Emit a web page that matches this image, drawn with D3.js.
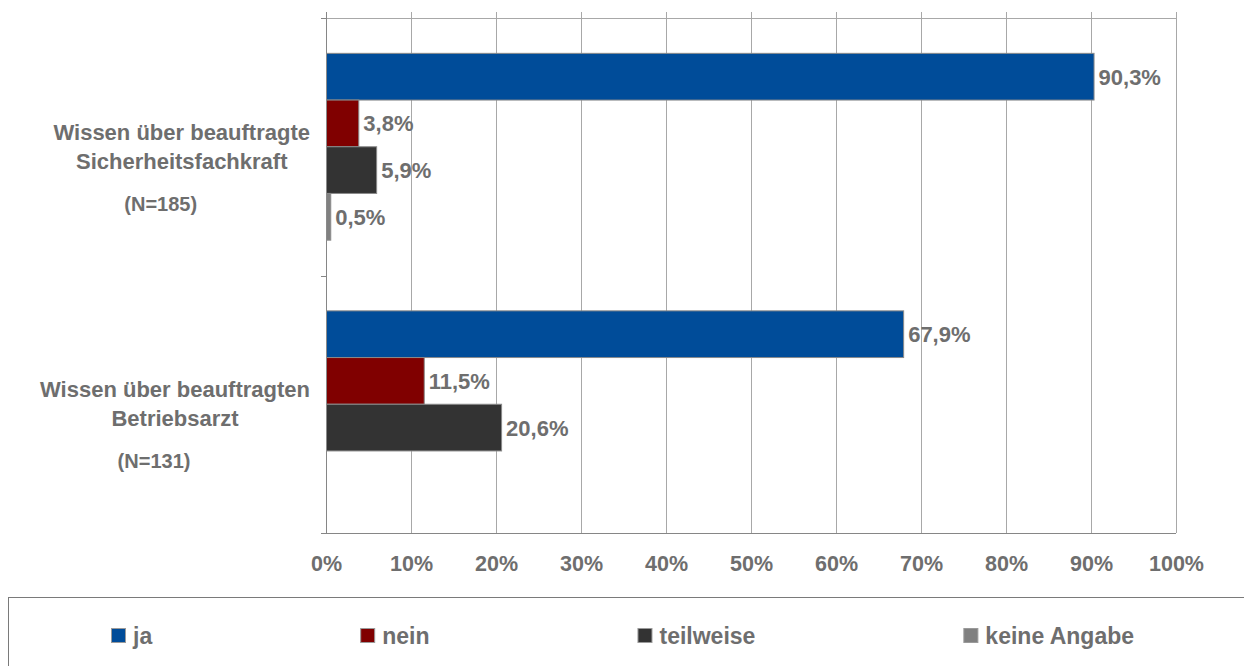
<!DOCTYPE html>
<html>
<head>
<meta charset="utf-8">
<script src="https://cdn.jsdelivr.net/npm/d3@7"></script>
<style>
  html, body { margin: 0; padding: 0; background: #ffffff; }
  svg { display: block; }
  text { font-family: "Liberation Sans", Arial, sans-serif; font-weight: bold; fill: #6e6e6e; }
</style>
</head>
<body>
<svg id="chart" width="1244" height="666"></svg>
<script>
// ---- data ----
const categories = ["Sicherheitsfachkraft", "Betriebsarzt"];
const categoryLines = [
  ["Wissen über beauftragte", "Sicherheitsfachkraft"],
  ["Wissen über beauftragten", "Betriebsarzt"]
];
const categoryN = ["(N=185)", "(N=131)"];
const seriesNames = ["ja", "nein", "teilweise", "keine Angabe"];
const seriesColors = ["#004C99", "#800000", "#333333", "#808080"];
const valuesJa = [90.3, 67.9];
const valuesNein = [3.8, 11.5];
const valuesTeilweise = [5.9, 20.6];
const valuesKeineAngabe = [0.5, null];
const seriesValues = [valuesJa, valuesNein, valuesTeilweise, valuesKeineAngabe];
const tickValues = [0, 10, 20, 30, 40, 50, 60, 70, 80, 90, 100];

// ---- layout ----
const svg = d3.select("#chart");
const plot = { left: 326, right: 1176, top: 18, bottom: 533 };
const gridColor = "#a8a8a8";
const axisColor = "#868686";

const x = d3.scaleLinear().domain([0, 100]).range([plot.left, plot.right]);
const y = d3.scaleBand().domain(categories).range([plot.top, plot.bottom]).padding(0);
const ySub = d3.scaleBand().domain(seriesNames).range([0, y.bandwidth()])
  .paddingInner(0).paddingOuter(0.757);

// top line
svg.append("line")
  .attr("x1", plot.left - 5).attr("x2", plot.right)
  .attr("y1", plot.top + 0.5).attr("y2", plot.top + 0.5)
  .attr("stroke", gridColor).attr("stroke-width", 1);

// vertical gridlines
svg.append("g").selectAll("line").data(tickValues.slice(1)).join("line")
  .attr("x1", d => Math.round(x(d)) + 0.5).attr("x2", d => Math.round(x(d)) + 0.5)
  .attr("y1", plot.top - 6).attr("y2", plot.bottom)
  .attr("stroke", gridColor).attr("stroke-width", 1);

// bottom axis
const xAxis = d3.axisBottom(x).tickValues(tickValues).tickSize(0).tickPadding(23)
  .tickFormat(d => d + "%");
const gx = svg.append("g").attr("transform", `translate(0,${plot.bottom})`).call(xAxis);
gx.select(".domain").remove();
gx.selectAll("text").attr("font-size", 21.5).attr("font-family", null)
  .style("fill", "#6e6e6e").attr("dy", "0.71em");
svg.append("line")
  .attr("x1", plot.left - 5).attr("x2", plot.right)
  .attr("y1", plot.bottom + 0.5).attr("y2", plot.bottom + 0.5)
  .attr("stroke", axisColor).attr("stroke-width", 1);

// left axis with ticks at category boundaries
svg.append("line")
  .attr("x1", plot.left + 0.5).attr("x2", plot.left + 0.5)
  .attr("y1", plot.top - 6).attr("y2", plot.bottom)
  .attr("stroke", axisColor).attr("stroke-width", 1);
const boundaries = [plot.top].concat(categories.map(c => y(c) + y.bandwidth()));
svg.append("g").selectAll("line").data(boundaries).join("line")
  .attr("x1", plot.left - 5).attr("x2", plot.left)
  .attr("y1", d => Math.round(d) + 0.5).attr("y2", d => Math.round(d) + 0.5)
  .attr("stroke", axisColor).attr("stroke-width", 1);

// bars
const barData = [];
categories.forEach((c, ci) => {
  seriesNames.forEach((s, si) => {
    const v = seriesValues[si][ci];
    if (v !== null && v !== undefined) barData.push({ c, s, si, v });
  });
});
const bars = svg.append("g");
bars.selectAll("rect").data(barData).join("rect")
  .attr("x", x(0) + 0.5)
  .attr("y", d => y(d.c) + ySub(d.s))
  .attr("width", d => x(d.v) - x(0))
  .attr("height", ySub.bandwidth())
  .attr("fill", d => seriesColors[d.si])
  .attr("stroke", "#8a8a8a").attr("stroke-width", 1);

bars.selectAll("text").data(barData).join("text")
  .attr("x", d => x(d.v) + 5)
  .attr("y", d => y(d.c) + ySub(d.s) + ySub.bandwidth() / 2)
  .attr("dy", "0.36em")
  .attr("font-size", 22)
  .text(d => d3.format(".1f")(d.v).replace(".", ",") + "%");

// category labels
const labelRight = 310;
categories.forEach((c, ci) => {
  const g = svg.append("g");
  const cy = y(c) + y.bandwidth() / 2;
  const lines = categoryLines[ci];
  const texts = g.selectAll("text.l").data(lines).join("text").attr("class", "l")
    .attr("font-size", 22)
    .attr("text-anchor", "middle")
    .text(d => d);
  const maxW = d3.max(texts.nodes(), n => n.getComputedTextLength());
  const cx = labelRight - maxW / 2;
  texts.attr("x", cx).attr("y", (d, i) => cy - 7 + i * 29);
  g.append("text").attr("font-size", 20).attr("text-anchor", "middle")
    .attr("x", cx - 21).attr("y", cy + 64).text(categoryN[ci]);
});

// legend
svg.append("rect")
  .attr("x", 8.5).attr("y", 597.5).attr("width", 1250).attr("height", 100)
  .attr("fill", "none").attr("stroke", "#7a7a7a").attr("stroke-width", 1);
const legend = svg.append("g");
let lx = 111;
const gap = 208;
seriesNames.forEach((s, i) => {
  const it = legend.append("g").attr("transform", `translate(${lx},0)`);
  it.append("rect").attr("x", 0.5).attr("y", 628.5).attr("width", 14).attr("height", 14)
    .attr("fill", seriesColors[i]).attr("stroke", "#9a9a9a").attr("stroke-width", 1);
  const t = it.append("text").attr("x", 22).attr("y", 644).attr("font-size", 23).text(s);
  lx += 22 + t.node().getComputedTextLength() + gap;
});
</script>
</body>
</html>
